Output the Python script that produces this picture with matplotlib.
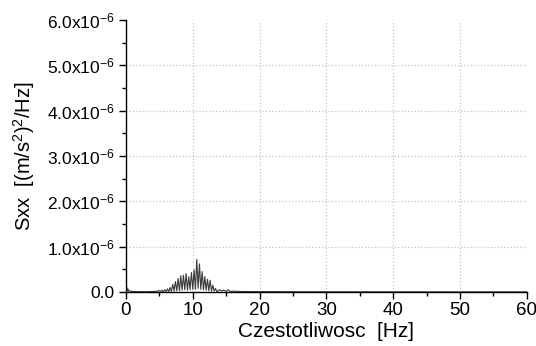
import matplotlib
matplotlib.use("Agg")
import matplotlib.pyplot as plt
from matplotlib.ticker import MultipleLocator, FuncFormatter

plt.rcParams["font.family"] = ["Liberation Sans", "DejaVu Sans"]
plt.rcParams["mathtext.fontset"] = "custom"
plt.rcParams["mathtext.rm"] = "Liberation Sans"

# frequency [Hz] and PSD values [1e-6 (m/s^2)^2/Hz]
freq_hz = [
    0.0, 0.1, 0.2, 0.3, 0.4, 0.6, 0.8, 1.0, 1.5, 2.0, 2.5, 3.0, 3.5, 4.0, 4.5, 5.0,
    5.2, 5.4, 5.6, 5.8, 6.0, 6.2, 6.4, 6.6, 6.8, 7.0, 7.2, 7.4, 7.6, 7.8,
    8.0, 8.2, 8.4, 8.6, 8.8, 9.0, 9.2, 9.4, 9.6, 9.8, 10.0, 10.2, 10.4, 10.6,
    10.8, 11.0, 11.2, 11.4, 11.6, 11.8, 12.0, 12.2, 12.4, 12.6, 12.8, 13.0,
    13.2, 13.4, 13.6, 14.0, 14.3, 14.6, 15.0, 15.3, 15.6, 16.0, 17.0, 18.0,
    20.0, 25.0, 30.0, 35.0, 40.0, 45.0, 50.0, 55.0, 60.0,
]
sxx_e6 = [
    0.02, 0.12, 0.03, 0.07, 0.02, 0.03, 0.01, 0.015, 0.01, 0.008, 0.008, 0.006, 0.008, 0.01, 0.015, 0.03,
    0.01, 0.04, 0.005, 0.05, 0.01, 0.07, 0.01, 0.10, 0.015, 0.17, 0.02, 0.23, 0.03, 0.30,
    0.03, 0.36, 0.04, 0.37, 0.05, 0.41, 0.04, 0.34, 0.05, 0.43, 0.06, 0.49, 0.06, 0.72,
    0.08, 0.62, 0.06, 0.45, 0.05, 0.34, 0.04, 0.28, 0.03, 0.26, 0.02, 0.15,
    0.02, 0.08, 0.01, 0.05, 0.02, 0.04, 0.015, 0.05, 0.01, 0.02, 0.012, 0.01,
    0.008, 0.006, 0.005, 0.005, 0.004, 0.004, 0.003, 0.003, 0.003,
]

x_ticks = [0, 10, 20, 30, 40, 50, 60]
y_ticks_e6 = [0, 1, 2, 3, 4, 5, 6]


def sci_fmt(v, pos):
    if abs(v) < 1e-12:
        return "0.0"
    return r"$\mathregular{%.1fx10^{-6}}$" % (v / 1e-6)


fig = plt.figure(figsize=(5.36, 3.46), dpi=100)
ax = fig.add_axes([0.235, 0.156, 0.748, 0.786])

# dotted grid only inside the frame (not on the edges)
for gx in x_ticks[1:-1]:
    ax.axvline(gx, color="#c4c4c4", linestyle=":", linewidth=0.9, zorder=0)
for gy in y_ticks_e6[1:-1]:
    ax.axhline(gy * 1e-6, color="#c4c4c4", linestyle=":", linewidth=0.9, zorder=0)

ax.plot(freq_hz, [v * 1e-6 for v in sxx_e6], color="#3a3a3a", lw=0.8)

ax.set_xlim(0, 60)
ax.set_ylim(0, 6e-6)
ax.set_xticks(x_ticks)
ax.set_yticks([v * 1e-6 for v in y_ticks_e6])
ax.xaxis.set_minor_locator(MultipleLocator(5))
ax.yaxis.set_minor_locator(MultipleLocator(0.5e-6))
ax.yaxis.set_major_formatter(FuncFormatter(sci_fmt))

for s in ["top", "right"]:
    ax.spines[s].set_visible(False)
for s in ["left", "bottom"]:
    ax.spines[s].set_linewidth(1.0)

ax.tick_params(which="major", direction="out", length=5, width=1, labelsize=13.5)
ax.tick_params(axis="y", which="major", labelsize=12.5)
ax.tick_params(which="minor", direction="out", length=3, width=1)
ax.tick_params(axis="x", pad=2)
ax.tick_params(axis="y", pad=3)

ax.set_xlabel("Czestotliwosc  [Hz]", fontsize=15, labelpad=2)
ax.set_ylabel(r"Sxx  [(m/s$\mathregular{^2}$)$\mathregular{^2}$/Hz]", fontsize=14.5, labelpad=7)

fig.savefig("out.png", dpi=100)
